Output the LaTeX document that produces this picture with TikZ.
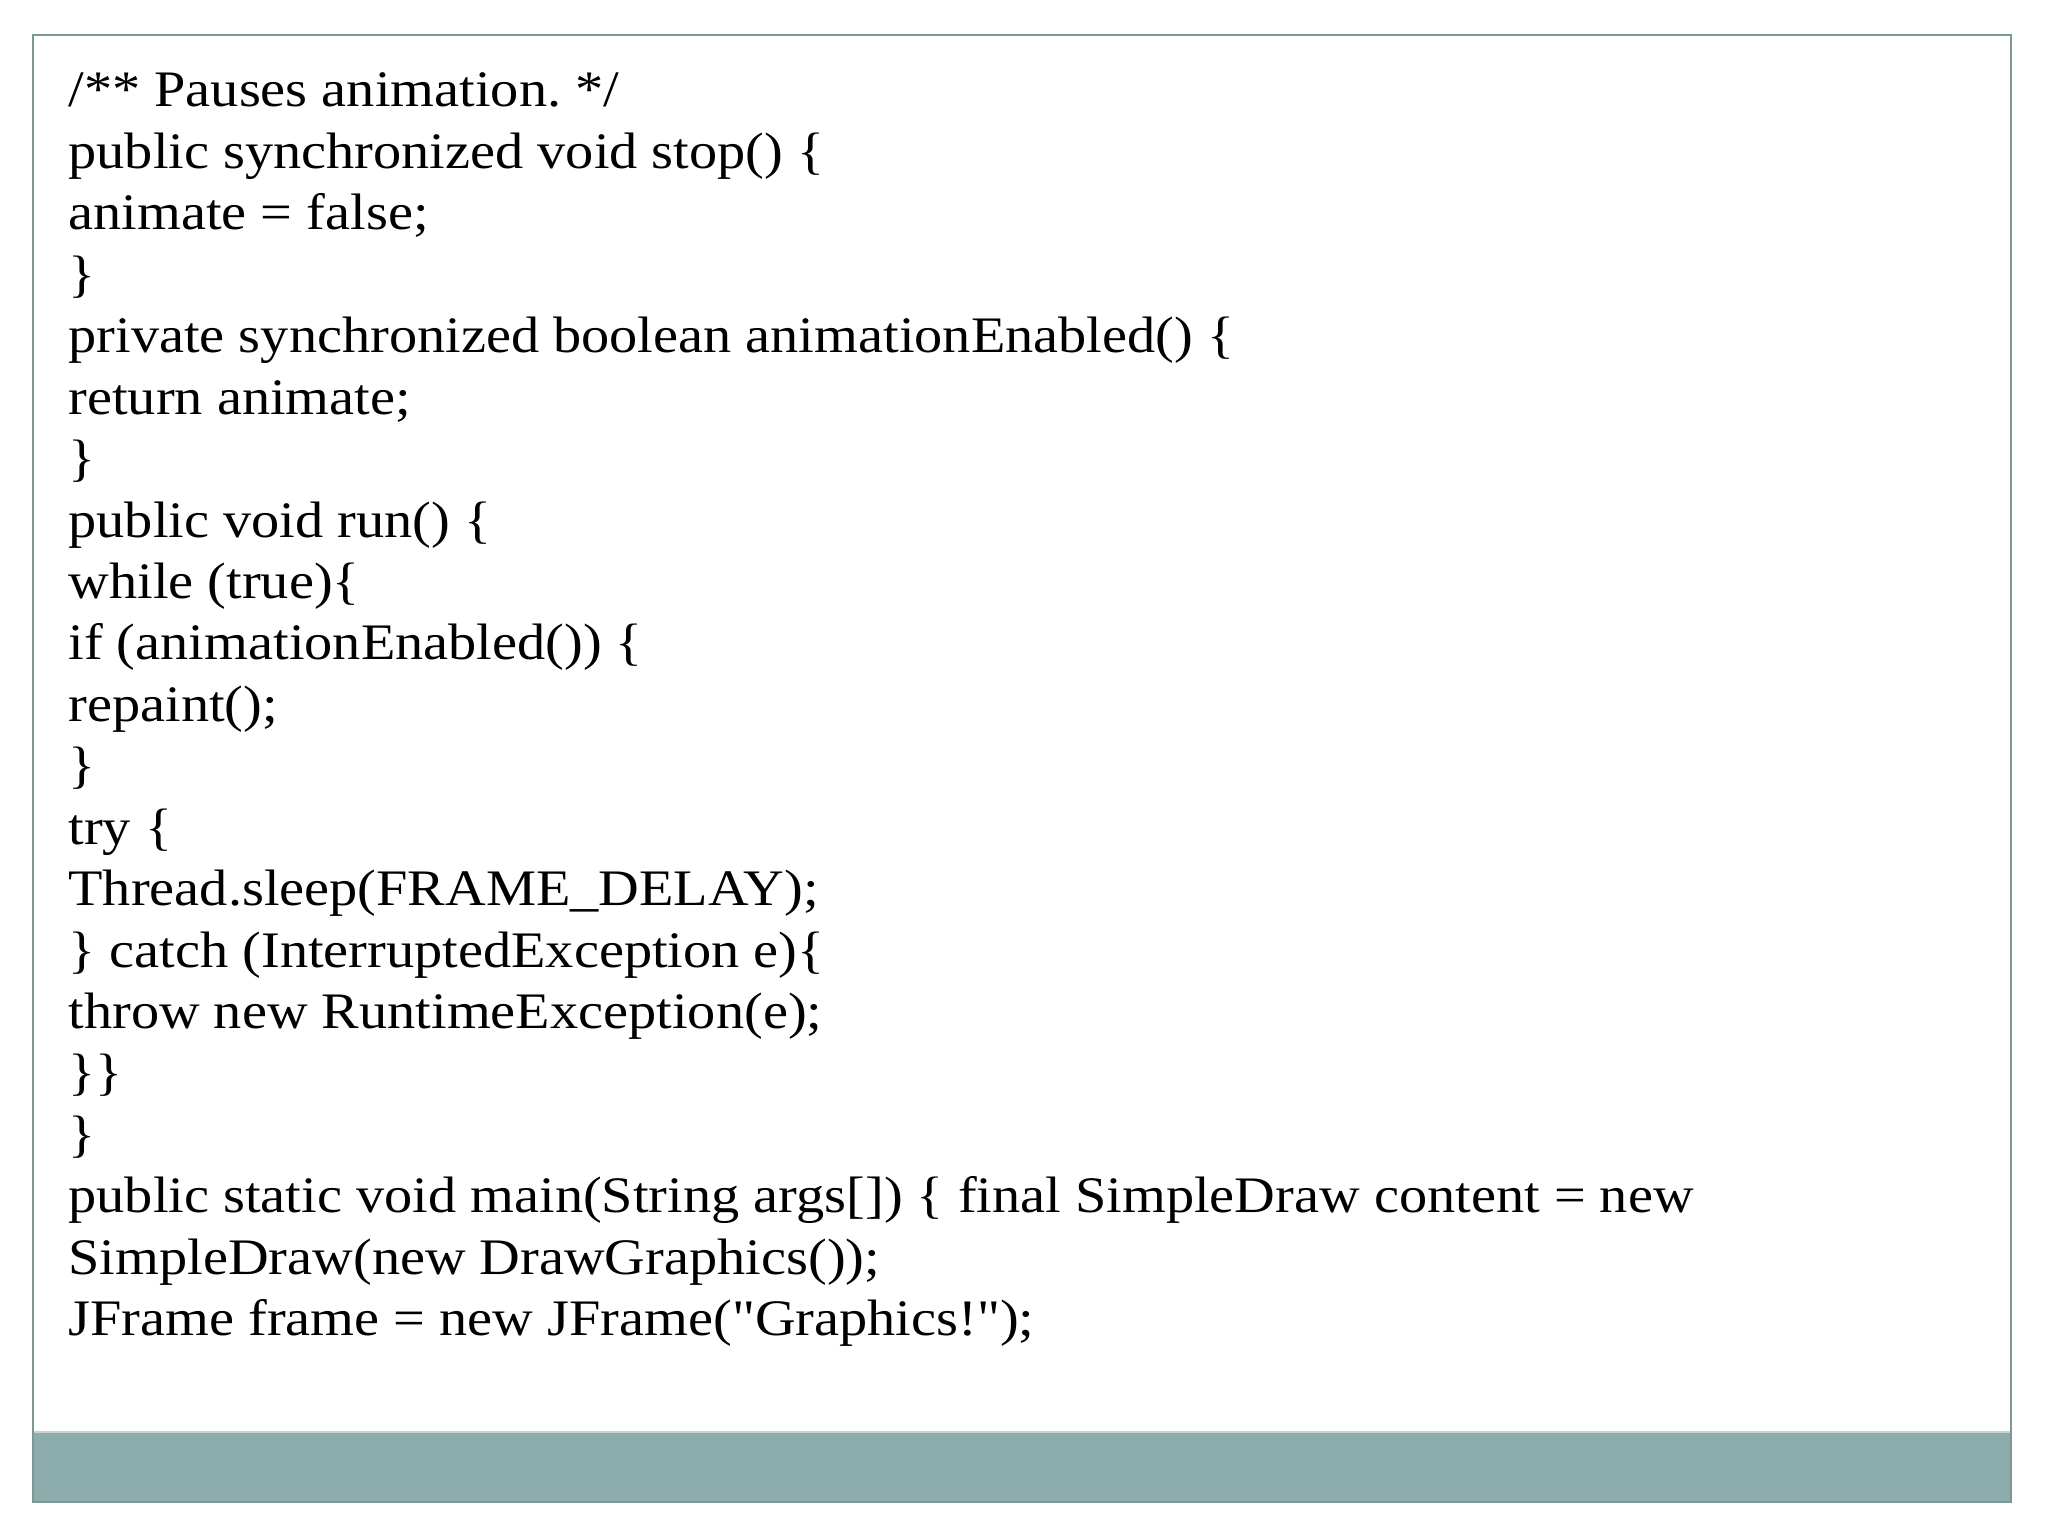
\documentclass[tikz,border=0pt]{standalone}
\usepackage{fontspec}
\setmainfont{Liberation Serif}[FakeStretch=1.10,Ligatures=TeXOff]
\frenchspacing
\definecolor{framec}{RGB}{122,152,148}
\definecolor{bandc}{RGB}{141,172,172}
\definecolor{bandtop}{RGB}{200,210,210}
\definecolor{bandbot}{RGB}{118,140,140}
\begin{document}
\begin{tikzpicture}[x=1pt,y=1pt,
  codeline/.style={anchor=base west,inner sep=0pt,font=\fontsize{18}{21.6}\selectfont}]
\useasboundingbox (0,0) rectangle (720,-540);
\fill[white] (0,0) rectangle (720,-540);
\fill[bandc] (11.6,-503.4) rectangle (707,-528);
\draw[bandtop,line width=0.8pt] (11.6,-503.4) -- (707,-503.4);
\draw[bandbot,line width=0.8pt] (11.6,-528) -- (707,-528);
\draw[framec,line width=0.9pt] (11.6,-12.3) rectangle (707,-528);
\node[codeline] (l1) at (23.9,-37.6) {/** Pauses animation. */};
\node[codeline] (l2) at (23.9,-59.2) {public synchronized void stop() \{};
\node[codeline] (l3) at (23.9,-80.8) {animate = false;};
\node[codeline] (l4) at (23.9,-102.4) {\}};
\node[codeline] (l5) at (23.9,-124.0) {private synchronized boolean animationEnabled() \{};
\node[codeline] (l6) at (23.9,-145.6) {return animate;};
\node[codeline] (l7) at (23.9,-167.2) {\}};
\node[codeline] (l8) at (23.9,-188.8) {public void run() \{};
\node[codeline] (l9) at (23.9,-210.4) {while (true)\{};
\node[codeline] (l10) at (23.9,-232.0) {if (animationEnabled()) \{};
\node[codeline] (l11) at (23.9,-253.6) {repaint();};
\node[codeline] (l12) at (23.9,-275.2) {\}};
\node[codeline] (l13) at (23.9,-296.8) {try \{};
\node[codeline] (l14) at (23.9,-318.4) {Thread.sleep(FRAME\_DELAY);};
\node[codeline] (l15) at (23.9,-340.0) {\} catch (InterruptedException e)\{};
\node[codeline] (l16) at (23.9,-361.6) {throw new RuntimeException(e);};
\node[codeline] (l17) at (23.9,-383.2) {\}\}};
\node[codeline] (l18) at (23.9,-404.8) {\}};
\node[codeline] (l19) at (23.9,-426.4) {public static void main(String args[]) \{ final SimpleDraw content = new};
\node[codeline] (l20) at (23.9,-448.0) {SimpleDraw(new DrawGraphics());};
\node[codeline] (l21) at (23.9,-469.6) {JFrame frame = new JFrame("Graphics!");};
\end{tikzpicture}
\end{document}
